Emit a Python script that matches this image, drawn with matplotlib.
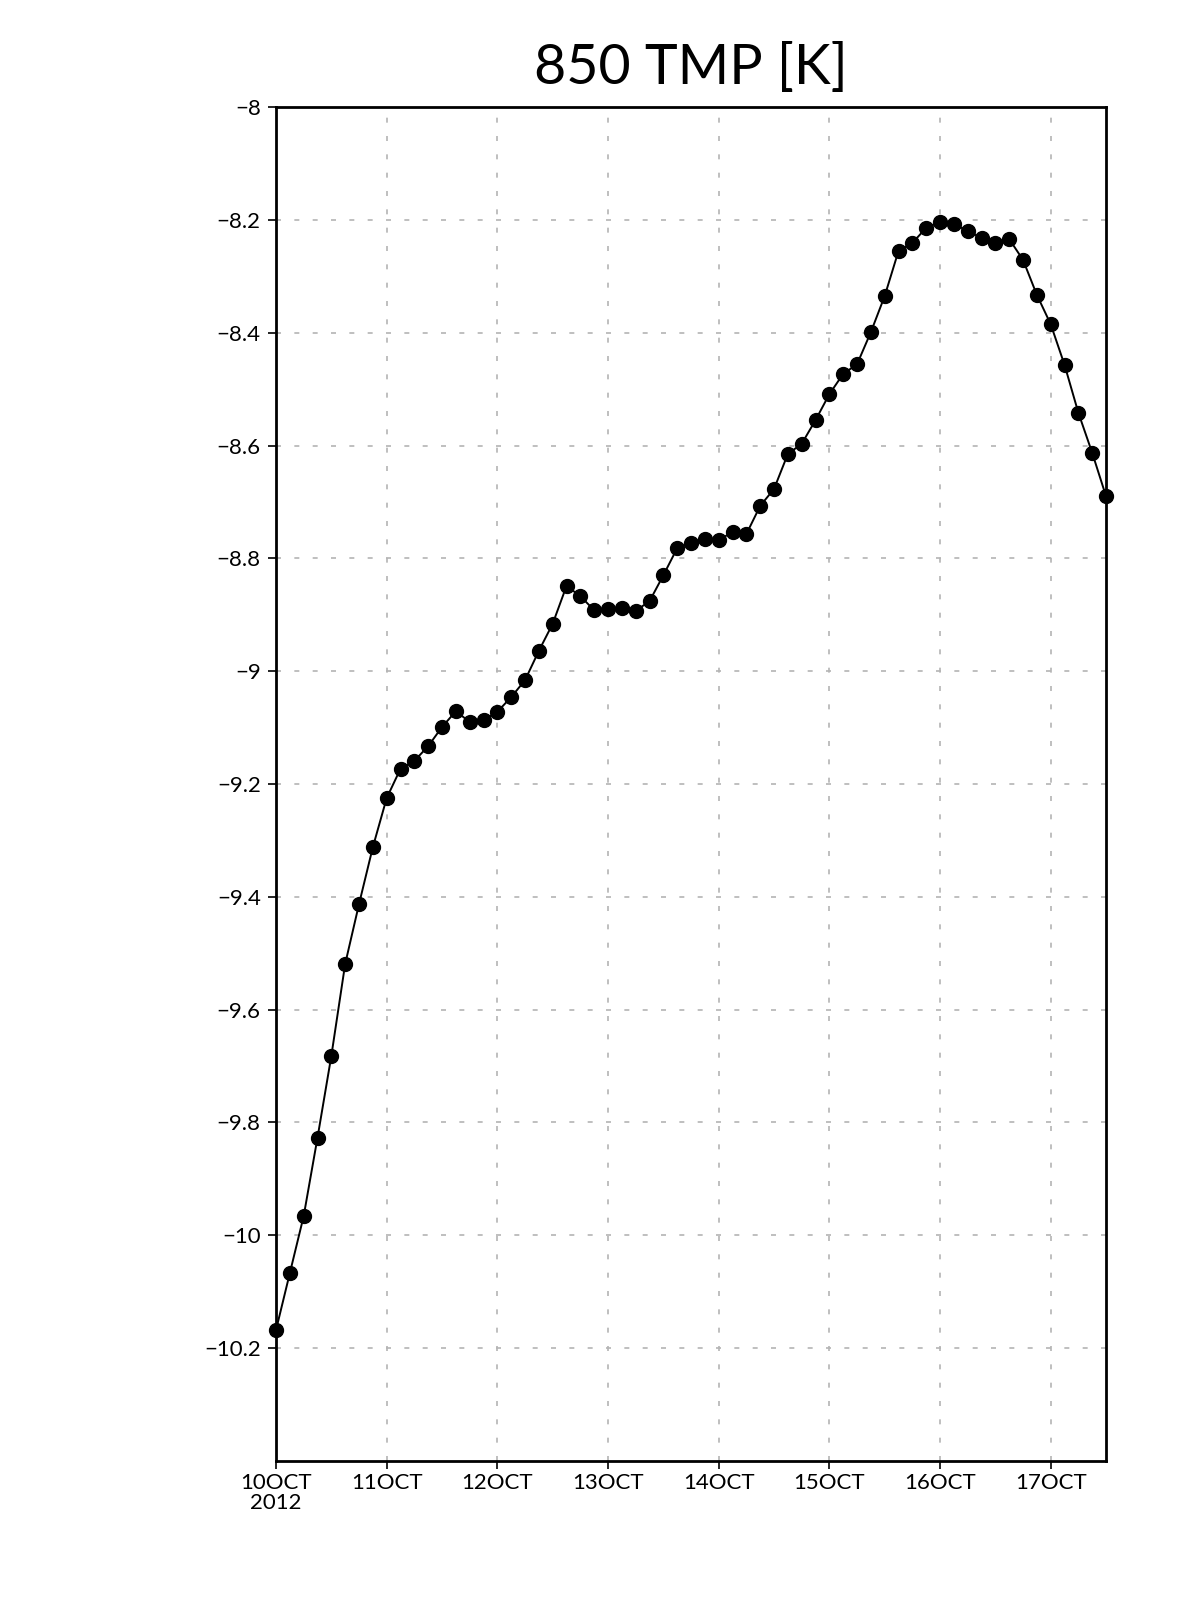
import numpy as np
import pandas as pd
import matplotlib
matplotlib.use("Agg")
import matplotlib.pyplot as plt

# 850 hPa temperature, 3-hourly from 10 Oct 2012 00Z
tmp850 = [-10.168, -10.067, -9.966, -9.827, -9.682, -9.519, -9.413, -9.312,
          -9.225, -9.173, -9.159, -9.133, -9.099, -9.071, -9.090, -9.087,
          -9.072, -9.046, -9.016, -8.964, -8.916, -8.849, -8.867, -8.892,
          -8.890, -8.888, -8.893, -8.876, -8.830, -8.782, -8.773, -8.766,
          -8.768, -8.753, -8.757, -8.707, -8.677, -8.615, -8.597, -8.555,
          -8.509, -8.473, -8.456, -8.399, -8.335, -8.255, -8.241, -8.214,
          -8.204, -8.207, -8.220, -8.232, -8.241, -8.234, -8.271, -8.333,
          -8.385, -8.457, -8.542, -8.613, -8.690]
times = pd.date_range("2012-10-10 00:00", periods=len(tmp850), freq="3h")

yticks = [-8, -8.2, -8.4, -8.6, -8.8, -9, -9.2, -9.4, -9.6, -9.8, -10, -10.2]
xtick_days = pd.date_range("2012-10-10", "2012-10-17", freq="D")
xtick_labels = ["10OCT\n2012", "11OCT", "12OCT", "13OCT", "14OCT", "15OCT", "16OCT", "17OCT"]

plt.rcParams['font.family'] = ['Lato', 'DejaVu Sans']

fig = plt.figure(figsize=(12, 16), dpi=100)
ax = fig.add_axes([0.23, 0.0869, 0.6917, 0.8462])

ax.plot(times, tmp850, color='black', lw=1.4, marker='o', ms=10, mfc='black', mec='black',
        clip_on=False, zorder=3)

ax.set_xlim(times[0], times[-1])
ax.set_ylim(-10.4, -8)

ax.set_yticks(yticks)
ax.set_yticklabels([("\u2212" + f"{abs(v):g}") for v in yticks])
ax.set_xticks(xtick_days)
ax.set_xticklabels(xtick_labels, linespacing=0.95)

ax.grid(True, color='#b4b4b4', linestyle=(0, (3, 8)), lw=1.2)
ax.tick_params(axis='both', direction='out', length=6, width=1.2, labelsize=16, colors='black')
ax.tick_params(axis='x', pad=3)
ax.tick_params(axis='y', pad=5)

for s in ax.spines.values():
    s.set_linewidth(2)

fig.text(0.5758, 0.957, "850 TMP [K]", ha='center', va='center', fontsize=40,
         color='black')

fig.savefig("out.png", dpi=100, facecolor='white')
